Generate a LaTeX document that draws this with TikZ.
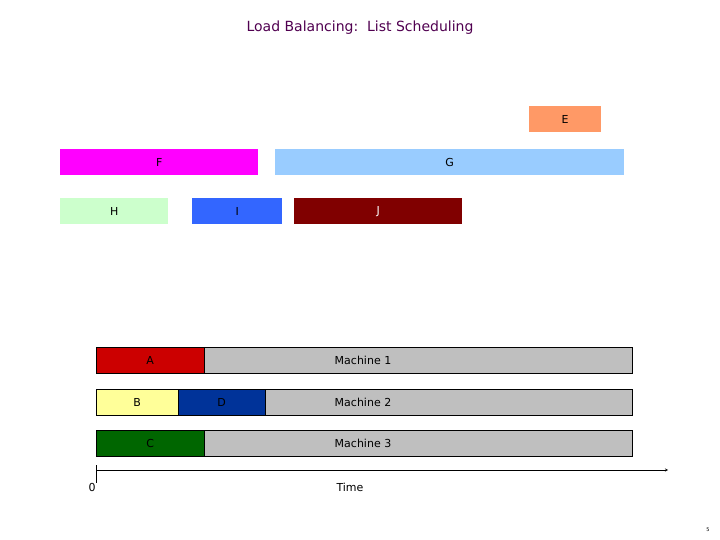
\documentclass[tikz,border=0pt]{standalone}
\usepackage{fontspec}
\setmainfont{DejaVu Sans}
\begin{document}
\begin{tikzpicture}[x=1pt,y=-1pt,
 job/.style={draw=none,minimum height=26pt,inner sep=0pt,anchor=north west,font=\fontsize{11}{12}\selectfont},
 mjob/.style={draw=black,minimum height=26pt,inner sep=0pt,anchor=north west,font=\fontsize{11}{12}\selectfont},
 lab/.style={font=\fontsize{11}{12}\selectfont}]
\useasboundingbox (0,0) rectangle (720,540);
\definecolor{cE}{RGB}{255,153,102}\definecolor{cF}{RGB}{255,0,255}
\definecolor{cG}{RGB}{153,204,255}\definecolor{cH}{RGB}{204,255,204}
\definecolor{cI}{RGB}{51,102,255}\definecolor{cJ}{RGB}{128,0,0}
\definecolor{cA}{RGB}{204,0,0}\definecolor{cB}{RGB}{255,255,153}
\definecolor{cD}{RGB}{0,51,153}\definecolor{cC}{RGB}{0,102,0}
\definecolor{tit}{RGB}{80,0,80}
\node[font=\fontsize{14}{16}\selectfont,text=tit] (t) at (360,28) {Load Balancing:\ \ List Scheduling};
\node[job,fill=cE,minimum width=72pt] (E) at (529,106) {E};
\node[job,fill=cF,minimum width=198pt] (F) at (60,149) {F};
\node[job,fill=cG,minimum width=349pt] (G) at (275,149) {G};
\node[job,fill=cH,minimum width=108pt] (H) at (60,198) {H};
\node[job,fill=cI,minimum width=90pt] (I) at (192,198) {I};
\node[job,fill=cJ,minimum width=168pt,text=white] (J) at (294,198) {J};
\node[mjob,fill=gray!50,minimum width=536pt] (M1) at (96,347) {};
\node[mjob,fill=gray!50,minimum width=536pt] (M2) at (96,389) {};
\node[mjob,fill=gray!50,minimum width=536pt] (M3) at (96,430) {};
\node[mjob,fill=cA,minimum width=108pt] (A) at (96,347) {A};
\node[mjob,fill=cB,minimum width=82pt] (B) at (96,389) {B};
\node[mjob,fill=cD,minimum width=87pt] (D) at (178,389) {D};
\node[mjob,fill=cC,minimum width=108pt] (C) at (96,430) {C};
\node[lab] (l1) at (363,360) {Machine 1};
\node[lab] (l2) at (363,402) {Machine 2};
\node[lab] (l3) at (363,443) {Machine 3};
\coordinate (o) at (96,470); \coordinate (e) at (668,470);
\draw[-stealth] (o) -- (e);
\draw (96,465) -- (96,483);
\node[lab] (z) at (92,487) {0};
\node[lab] (tm) at (350,487) {Time};
\node[font=\fontsize{5}{6}\selectfont] (p) at (708,530) {5};
\end{tikzpicture}
\end{document}
